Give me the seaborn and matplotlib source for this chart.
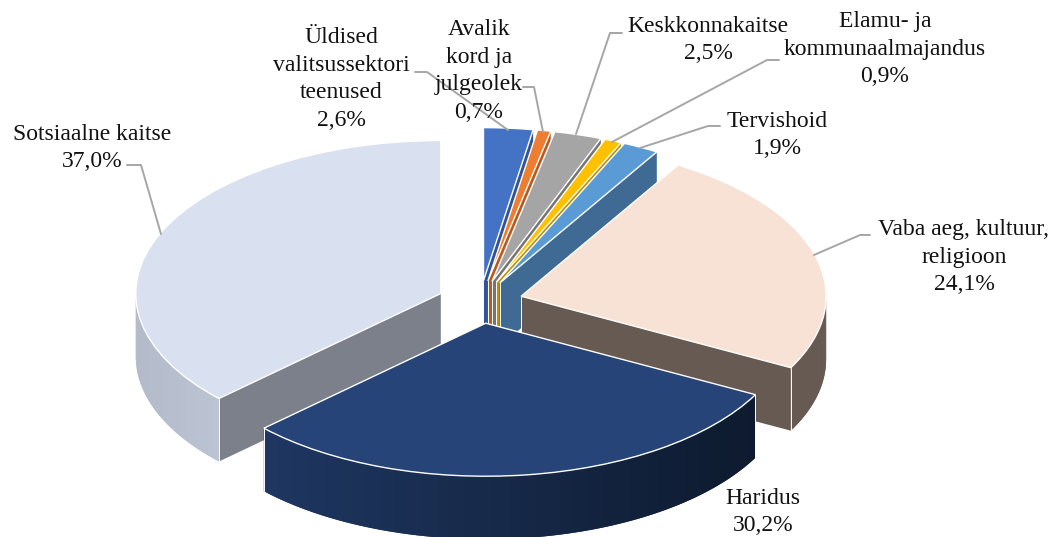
import numpy as np
import matplotlib
matplotlib.use('Agg')
import matplotlib.pyplot as plt
from matplotlib.lines import Line2D
import seaborn as sns

names = ['Üldised\nvalitsussektori\nteenused', 'Avalik\nkord ja\njulgeolek', 'Keskkonnakaitse',
         'Elamu- ja\nkommunaalmajandus', 'Tervishoid', 'Vaba aeg, kultuur,\nreligioon',
         'Haridus', 'Sotsiaalne kaitse']
shares = [2.6, 0.7, 2.5, 0.9, 1.9, 24.1, 30.2, 37.0]

top_colors = ['#4472C4', '#ED7D31', '#A5A5A5', '#FFC000', '#5B9BD5', '#F7E2D5', '#264478', '#D9E0F0']
wall_colors = ['#2F5597', '#B85A20', '#757575', '#BF9000', '#3F6A94', '#665A52', '#1F3864', '#7B808A']
rim_left = ['#2F5597', '#B85A20', '#757575', '#BF9000', '#3F6A94', '#665A52', '#1E3661', '#B3BAC9']
rim_right = ['#2F5597', '#B85A20', '#757575', '#BF9000', '#3F6A94', '#665A52', '#0D1A2E', '#BCC3D2']

label_xy = [(341, 79), (479, 71), (708, 40), (885, 49), (777, 135), (964, 257), (763, 512), (92, 148)]
leaders = [[(415, 72), (427, 72), (508, 130)], [(523, 87), (534, 87), (543, 132)],
           [(622, 33), (610, 33), (576, 134)], [(779, 60), (767, 60), (612, 142)],
           [(720, 126), (708, 126), (640, 148)], [(870, 235), (860, 235), (814, 255)],
           [], [(127, 165), (141, 165), (161, 234)]]
draw_order = [0, 1, 2, 3, 4, 7, 5, 6]

W, H = 1054, 537
CX, CY, RX, RY = 480, 302, 305, 153
DEPTH = 63 / RY

sns.set_theme(style='white')
plt.rcParams['font.family'] = ['Liberation Serif', 'DejaVu Serif']

fig = plt.figure(figsize=(W / 100, H / 100), dpi=100)
ax = fig.add_axes([0, 0, 1, 1])
wedges, _ = ax.pie(shares, explode=[0.14] * len(shares), colors=top_colors, startangle=90, counterclock=False,
                   radius=1, wedgeprops={'edgecolor': 'white', 'linewidth': 1})
ax.set_aspect('auto')
ax.set_xlim(-CX / RX, (W - CX) / RX)
ax.set_ylim((CY - H) / RY, CY / RY)
ax.axis('off')


def add_walls(wedge, i, z):
    cx, cy = wedge.center
    # back wall first so the front one stays on top of it
    ends = sorted((wedge.theta1, wedge.theta2), key=lambda t: -np.sin(np.radians(t)))
    for t in ends:
        x = cx + wedge.r * np.cos(np.radians(t))
        y = cy + wedge.r * np.sin(np.radians(t))
        ax.fill([cx, x, x, cx], [cy, y, y - DEPTH, cy - DEPTH], color=wall_colors[i], lw=0, zorder=z)
        if y < cy:
            ax.plot([x, x], [y, y - DEPTH], color='white', lw=0.7, zorder=z + 0.15)
    ax.plot([cx, cx], [cy, cy - DEPTH], color='white', lw=0.7, zorder=z + 0.15)

    # outer rim, only the part facing the viewer
    angles = np.arange(np.floor(wedge.theta1), np.ceil(wedge.theta2) + 1.0)
    angles = np.clip(angles, wedge.theta1, wedge.theta2)
    angles = angles[np.sin(np.radians(angles)) <= 0.001]
    if len(angles) < 2:
        return
    xs = cx + wedge.r * np.cos(np.radians(angles))
    ys = cy + wedge.r * np.sin(np.radians(angles))
    left, right = xs.min(), xs.max()
    shades = sns.blend_palette([rim_left[i], rim_right[i]], 64)
    for k in range(len(angles) - 1):
        # each strip reaches over the next one, that hides the seams
        n = min(k + 2, len(angles) - 1)
        mid = (xs[k] + xs[k + 1]) / 2
        c = shades[int((mid - left) / (right - left + 1e-9) * 63)]
        ax.fill([xs[k], xs[k + 1], xs[n], xs[n], xs[k + 1], xs[k]],
                [ys[k], ys[k + 1], ys[n], ys[n] - DEPTH, ys[k + 1] - DEPTH, ys[k] - DEPTH],
                color=c, lw=0, zorder=z + 0.1)


for rank, i in enumerate(draw_order):
    z = 3 + rank
    add_walls(wedges[i], i, z)
    wedges[i].set_zorder(z + 0.2)

for name, share, (x, y), path in zip(names, shares, label_xy, leaders):
    text = name + '\n' + f'{share:.1f}%'.replace('.', ',')
    if path:
        xs, ys = zip(*path)
        fig.add_artist(Line2D(np.array(xs) / W, 1 - np.array(ys) / H, color='#A6A6A6', lw=1.4, zorder=20))
    fig.text(x / W, 1 - y / H, text, ha='center', va='center', fontsize=17, color='#111111',
             linespacing=1.4, zorder=21)

fig.savefig('out.png', dpi=100)
